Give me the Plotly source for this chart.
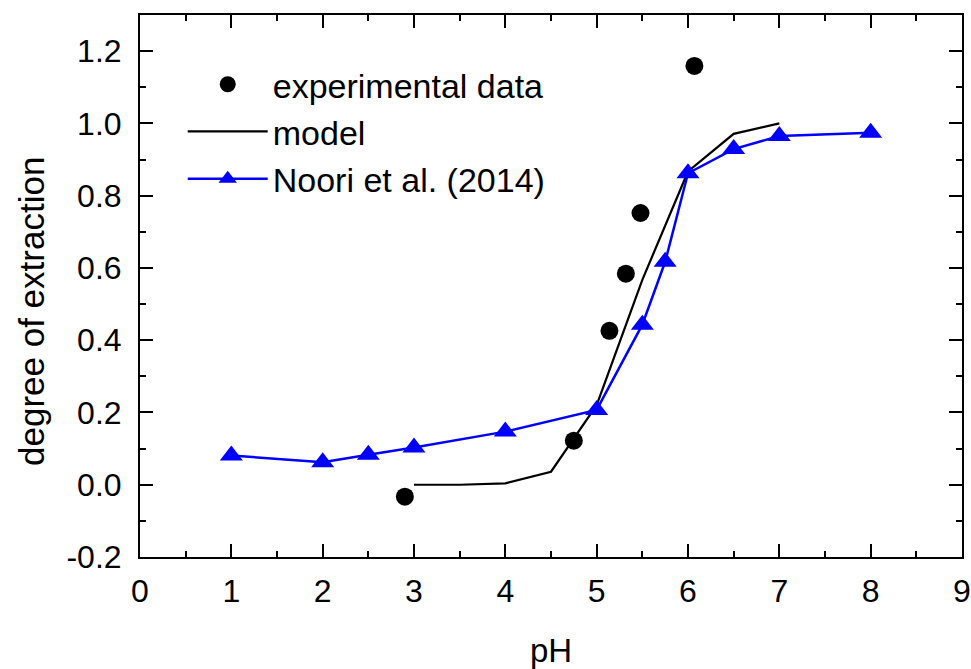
import plotly.graph_objects as go

exp_ph = [2.90, 4.75, 5.14, 5.32, 5.48, 6.07]
exp_deg = [-0.033, 0.122, 0.426, 0.584, 0.752, 1.159]

model_ph = [3.0, 3.5, 4.0, 4.5, 5.0, 5.5, 6.0, 6.5, 7.0]
model_deg = [0.0, 0.0, 0.004, 0.036, 0.22, 0.567, 0.867, 0.971, 1.0]

noori_ph = [1, 2, 2.5, 3, 4, 5, 5.5, 5.75, 6, 6.5, 7, 8]
noori_deg = [0.081, 0.062, 0.083, 0.103, 0.147, 0.207, 0.443, 0.617, 0.862, 0.929, 0.965, 0.974]

y_tickvals = [-0.2, 0.0, 0.2, 0.4, 0.6, 0.8, 1.0, 1.2]
y_ticktext = ["-0.2", "0.0", "0.2", "0.4", "0.6", "0.8", "1.0", "1.2"]

FONT = "Liberation Sans, Arial, sans-serif"

fig = go.Figure()
fig.add_trace(go.Scatter(x=model_ph, y=model_deg, mode="lines", name="model",
                         line=dict(color="black", width=2.2), legendrank=2))
fig.add_trace(go.Scatter(x=noori_ph, y=noori_deg, mode="lines+markers", name="Noori et al. (2014)",
                         line=dict(color="#0000ff", width=2.5), legendrank=3,
                         marker=dict(symbol="triangle-up", size=20, color="#0000ff")))
# experimental points drawn on the overlaid (identical-range) top/right axes,
# which also carry the mirrored inside ticks
fig.add_trace(go.Scatter(x=exp_ph, y=exp_deg, mode="markers", name="experimental data",
                         xaxis="x2", yaxis="y2", legendrank=1,
                         marker=dict(symbol="circle", size=18, color="black")))

tick_common = dict(ticks="inside", ticklen=13, tickwidth=2, tickcolor="black",
                   showgrid=False, zeroline=False)
x_minor = dict(ticks="inside", ticklen=6, tickwidth=2, tickcolor="black", dtick=0.5)
y_minor = dict(ticks="inside", ticklen=6, tickwidth=2, tickcolor="black", dtick=0.1)
tickfont = dict(family=FONT, size=32, color="black")

fig.update_layout(
    xaxis=dict(range=[0, 9], dtick=1, tick0=0, minor=x_minor,
               showline=True, linewidth=2, linecolor="black", mirror=True,
               tickfont=tickfont, ticklabelstandoff=5,
               title=dict(text="pH", font=dict(family=FONT, size=33, color="black"), standoff=32),
               **tick_common),
    yaxis=dict(range=[-0.2, 1.3], tickvals=y_tickvals, ticktext=y_ticktext, minor=y_minor,
               showline=True, linewidth=2, linecolor="black", mirror=True,
               tickfont=tickfont, ticklabelstandoff=10,
               **tick_common),
    xaxis2=dict(range=[0, 9], dtick=1, tick0=0, minor=x_minor, overlaying="x", side="top",
                anchor="y2", showticklabels=False, showline=False, **tick_common),
    yaxis2=dict(range=[-0.2, 1.3], tickvals=y_tickvals, minor=y_minor, overlaying="y", side="right",
                anchor="x2", showticklabels=False, showline=False, **tick_common),
)

fig.add_annotation(text="degree of extraction", textangle=-90,
                   xref="paper", yref="paper", x=-0.1326, y=0.452,
                   xanchor="center", yanchor="middle", showarrow=False,
                   font=dict(family=FONT, size=35, color="black"))

fig.update_layout(
    width=971, height=669,
    margin=dict(l=140, r=9, t=15, b=112, autoexpand=False),
    plot_bgcolor="white", paper_bgcolor="white",
    font=dict(family=FONT, size=32, color="black"),
    legend=dict(x=0.052, y=0.925, xanchor="left", yanchor="top",
                bgcolor="rgba(0,0,0,0)", font=dict(family=FONT, size=34, color="black"),
                itemwidth=80, tracegroupgap=0, traceorder="normal"),
    showlegend=True,
)

fig.write_html("out.html", config={"displayModeBar": False},
               post_script="document.body.style.margin='0';document.body.style.padding='0';window.dispatchEvent(new Event('resize'));")
